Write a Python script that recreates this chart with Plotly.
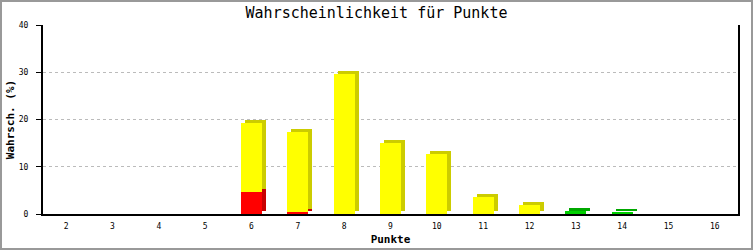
import plotly.graph_objects as go

# ---- data ----
punkte = [2, 3, 4, 5, 6, 7, 8, 9, 10, 11, 12, 13, 14, 15, 16]
rot = [0, 0, 0, 0, 4.7, 0.4, 0, 0, 0, 0, 0, 0, 0, 0, 0]
gelb = [0, 0, 0, 0, 14.6, 17.0, 29.6, 15.0, 12.6, 3.5, 1.9, 0.2, 0, 0, 0]
gruen = [0, 0, 0, 0, 0, 0, 0, 0, 0, 0, 0, 0.4, 0.35, 0, 0]
y_ticks = [0, 10, 20, 30, 40]

# ---- layout constants ----
W, H = 753, 250
ML, MR, MT, MB = 43, 15, 25, 36
PW, PH = W - ML - MR, H - MT - MB
XR = [1.5, 16.5]
YR = [0, 40]
px_x = PW / (XR[1] - XR[0])
px_y = PH / (YR[1] - YR[0])
BW = 21 / px_x          # bar width in data units
DX = 4 / px_x           # 3D depth x
DY = 3 / px_y           # 3D depth y

series = [
    (rot, "#FF0000", "#C80000"),
    (gelb, "#FFFF00", "#CCCC00"),
    (gruen, "#00D000", "#00A800"),
]

fig = go.Figure()

# cumulative bases
bases = []
acc = [0.0] * len(punkte)
for vals, _, _ in series:
    bases.append(list(acc))
    acc = [a + v for a, v in zip(acc, vals)]

def clean(vals):
    return [v if v > 0 else None for v in vals]

# shadows (side / top faces)
for (vals, c, dc), b in zip(series, bases):
    fig.add_trace(go.Bar(
        x=punkte, y=clean(vals), base=[bb + DY for bb in b],
        width=BW, offset=-BW / 2 + DX,
        marker=dict(color=dc, line=dict(width=0)),
        showlegend=False, hoverinfo="skip"))
# fronts
for (vals, c, dc), b in zip(series, bases):
    fig.add_trace(go.Bar(
        x=punkte, y=clean(vals), base=b,
        width=BW, offset=-BW / 2,
        marker=dict(color=c, line=dict(width=0)),
        showlegend=False))

mono = "DejaVu Sans Mono"
fig.update_layout(
    width=W, height=H,
    margin=dict(l=ML, r=MR, t=MT, b=MB, autoexpand=False),
    paper_bgcolor="white", plot_bgcolor="white",
    barmode="overlay",
    bargap=0,
    title=dict(text="Wahrscheinlichkeit für Punkte", x=0.5, xref="container",
               xanchor="center", y=1 - 13 / H, yref="container", yanchor="middle",
               font=dict(family=mono, size=15, color="black")),
    xaxis=dict(range=XR, tickmode="array", tickvals=punkte,
               ticktext=[str(p) for p in punkte],
               showgrid=False, zeroline=False, showline=True, linecolor="black",
               linewidth=2, ticks="", tickfont=dict(family=mono, size=8, color="black"),
               ticklabelstandoff=3,
               title=dict(text="<b>Punkte</b>", standoff=6,
                          font=dict(family=mono, size=11, color="black"))),
    yaxis=dict(range=YR, tickvals=y_ticks, showgrid=True, gridcolor="#BBBBBB",
               griddash="dot", gridwidth=1, zeroline=False,
               showline=True, linecolor="black", linewidth=2, mirror=True,
               ticks="outside", ticklen=5, tickcolor="black", tickwidth=1,
               ticklabelstandoff=6,
               tickfont=dict(family=mono, size=8, color="black"),
               title=dict(text="<b>Wahrsch. (%)</b>", standoff=2,
                          font=dict(family=mono, size=11, color="black"))),
    shapes=[dict(type="rect", xref="paper", yref="paper",
                 x0=(1 - ML) / PW, x1=1 + (MR - 1) / PW,
                 y0=-(MB - 1) / PH, y1=1 + (MT - 1) / PH,
                 line=dict(color="#999999", width=2), layer="above")],
)

fig.write_html("out.html")
